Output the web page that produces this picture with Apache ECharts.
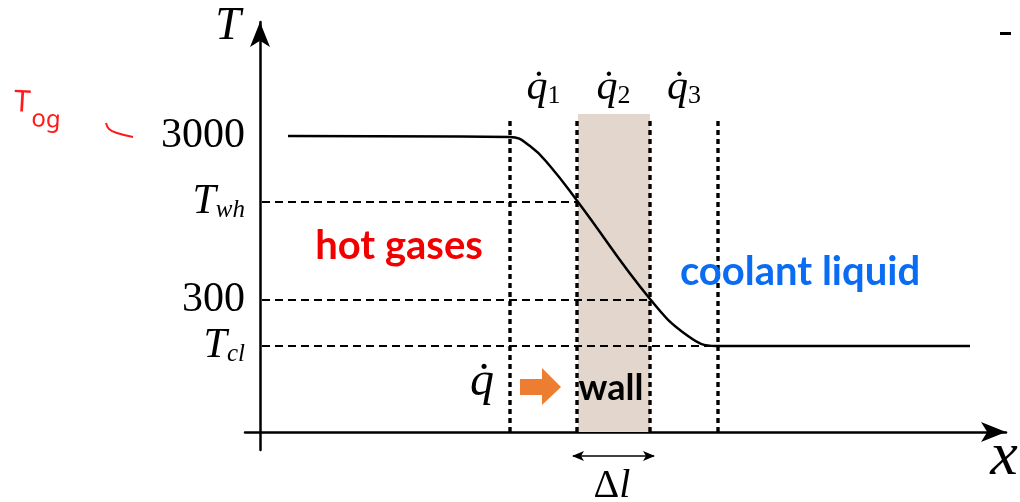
<!DOCTYPE html>
<html>
<head>
<meta charset="utf-8">
<script src="https://cdn.jsdelivr.net/npm/echarts@6/dist/echarts.min.js"></script>
<style>html,body{margin:0;padding:0;background:#fff}#c{width:1020px;height:502px}</style>
</head>
<body>
<div id="c"></div>
<script>
// ---- data (schematic units: x along the wall normal, T level on the schematic scale) ----
const curveX = [28, 250, 270, 290, 318, 390, 428, 456, 710];
const curveY = [296, 295, 286, 266, 230, 133, 96, 86, 86];
const yTickValues = [296, 230, 132, 86];
const yTickLabels = ['3000', 'T|wh', '300', 'T|cl'];
const levelValues = [230, 132, 86];
const levelEnds = [317, 390, 458];
const zoneBounds = [250, 317, 390, 458];
const zoneTop = 315;
const zoneLabels = ['1', '2', '3'];
const wallRange = [318, 390];
const wallTop = 318;

const chart = echarts.init(document.getElementById('c'));

const serif = 'Liberation Serif';
const series = [];

// wall band
series.push({
  type: 'line', data: [], silent: true, z: 1,
  markArea: { silent: true, itemStyle: { color: '#e3d6cd' },
    data: [[{ xAxis: wallRange[0], yAxis: 0 }, { xAxis: wallRange[1], yAxis: wallTop }]] }
});
// horizontal dashed level lines
levelValues.forEach((v, i) => {
  series.push({ type: 'line', symbol: 'none', z: 3, silent: true,
    data: [[2, v], [levelEnds[i], v]],
    lineStyle: { color: '#000', width: 2.2, type: [8, 5] } });
});
// vertical dotted zone lines
zoneBounds.forEach(b => {
  series.push({ type: 'line', symbol: 'none', z: 3, silent: true,
    data: [[b, 0], [b, zoneTop]],
    lineStyle: { color: '#000', width: 3.4, type: [5, 4] } });
});
// heat flux labels between zone lines
series.push({
  type: 'scatter', symbolSize: 0, z: 5, silent: true,
  itemStyle: { opacity: 1 },
  data: zoneLabels.map((l, i) => ({ value: [(zoneBounds[i] + zoneBounds[i + 1]) / 2, 344], name: l })),
  label: { show: true, position: 'inside', color: '#000', opacity: 1, textBorderWidth: 0,
    formatter: p => '{q|q\u0307}{s|' + p.name + '}',
    rich: {
      q: { fontFamily: serif, fontStyle: 'italic', fontSize: 42, color: '#000', textBorderWidth: 0 },
      s: { fontFamily: serif, fontSize: 26, color: '#000', textBorderWidth: 0, verticalAlign: 'bottom', lineHeight: 8 }
    } }
});
// temperature profile
series.push({
  type: 'line', symbol: 'none', smooth: 0.45, z: 6,
  data: curveX.map((x, i) => [x, curveY[i]]),
  lineStyle: { color: '#000', width: 2.5 }
});

const option = {
  animation: false,
  backgroundColor: '#fff',
  grid: { left: 245, right: 14, top: 22, bottom: 52 },
  xAxis: {
    type: 'value', min: -15, max: 746,
    axisLine: { onZero: true, symbol: ['none', 'arrow'], symbolSize: [15, 25], lineStyle: { color: '#000', width: 2.5 } },
    axisTick: { show: false }, axisLabel: { show: false }, splitLine: { show: false }
  },
  yAxis: {
    type: 'value', min: -18, max: 410,
    axisLine: { onZero: true, symbol: ['none', 'arrow'], symbolSize: [15, 25], lineStyle: { color: '#000', width: 2.5 } },
    axisTick: { show: false }, splitLine: { show: false },
    axisLabel: {
      customValues: yTickValues, margin: 0,
      formatter: v => {
        const i = yTickValues.indexOf(v);
        if (i < 0) return '';
        const s = yTickLabels[i];
        if (s.indexOf('|') >= 0) { const p = s.split('|'); return '{t|' + p[0] + '}{s|' + p[1] + '}'; }
        return '{n|' + s + '}';
      },
      rich: {
        n: { fontFamily: serif, fontSize: 42, color: '#000' },
        t: { fontFamily: serif, fontStyle: 'italic', fontSize: 42, color: '#000' },
        s: { fontFamily: serif, fontStyle: 'italic', fontSize: 25, color: '#000', verticalAlign: 'bottom', lineHeight: 4 }
      }
    }
  },
  series: series,
  graphic: [
    { type: 'text', z: 50, x: 228, y: 27, style: { text: 'T', font: 'italic 46px "Liberation Serif"', fill: '#000', align: 'center', verticalAlign: 'middle' } },
    { type: 'text', z: 50, x: 1004, y: 458, style: { text: 'x', font: 'italic 62px "Liberation Serif"', fill: '#000', align: 'center', verticalAlign: 'middle' } },
    { type: 'text', z: 50, x: 399, y: 246, style: { text: 'hot gases', font: 'bold 40px Lato', fill: '#f20000', align: 'center', verticalAlign: 'middle' } },
    { type: 'text', z: 50, x: 800, y: 272, style: { text: 'coolant liquid', font: 'bold 40px Lato', fill: '#0a6cf2', align: 'center', verticalAlign: 'middle' } },
    { type: 'text', z: 50, x: 611, y: 388, style: { text: 'wall', font: 'bold 36px Lato', fill: '#000', align: 'center', verticalAlign: 'middle' } },
    { type: 'text', z: 50, x: 482, y: 382, style: { text: 'q\u0307', font: 'italic 48px "Liberation Serif"', fill: '#000', align: 'center', verticalAlign: 'middle' } },
    { type: 'polygon', z: 50, shape: { points: [[520, 379], [542, 379], [542, 368], [561, 387], [542, 405], [542, 395], [520, 395]] }, style: { fill: '#ed7d31' } },
    { type: 'polyline', z: 50, shape: { points: [[573, 456], [654, 456]] }, style: { stroke: '#000', lineWidth: 1.5, fill: null } },
    { type: 'polygon', z: 50, shape: { points: [[572, 456], [584, 451], [581, 456], [584, 461]] }, style: { fill: '#000' } },
    { type: 'polygon', z: 50, shape: { points: [[655, 456], [643, 451], [646, 456], [643, 461]] }, style: { fill: '#000' } },
    { type: 'text', z: 50, x: 612, y: 486, style: { rich: { d: { fontFamily: serif, fontSize: 40, fill: '#000' }, l: { fontFamily: serif, fontStyle: 'italic', fontSize: 40, fill: '#000' } }, text: '{d|\u0394}{l|l}', align: 'center', verticalAlign: 'middle' } },
    { type: 'text', z: 50, x: 22, y: 103, rotation: -0.06, style: { text: 'T', font: '30px "Noto Sans"', fill: '#ff1a1a', align: 'center', verticalAlign: 'middle' } },
    { type: 'text', z: 50, x: 46, y: 120, rotation: -0.06, style: { text: 'og', font: '24px "Noto Sans"', fill: '#ff1a1a', align: 'center', verticalAlign: 'middle' } },
    { type: 'polyline', z: 50, shape: { points: [[106, 123], [109, 129], [117, 133], [133, 137]], smooth: 0.4 }, style: { stroke: '#ff1a1a', lineWidth: 2, fill: null } },
    { type: 'rect', z: 50, shape: { x: 1000, y: 32, width: 11, height: 3 }, style: { fill: '#000' } }
  ]
};
chart.setOption(option);
</script>
</body>
</html>
